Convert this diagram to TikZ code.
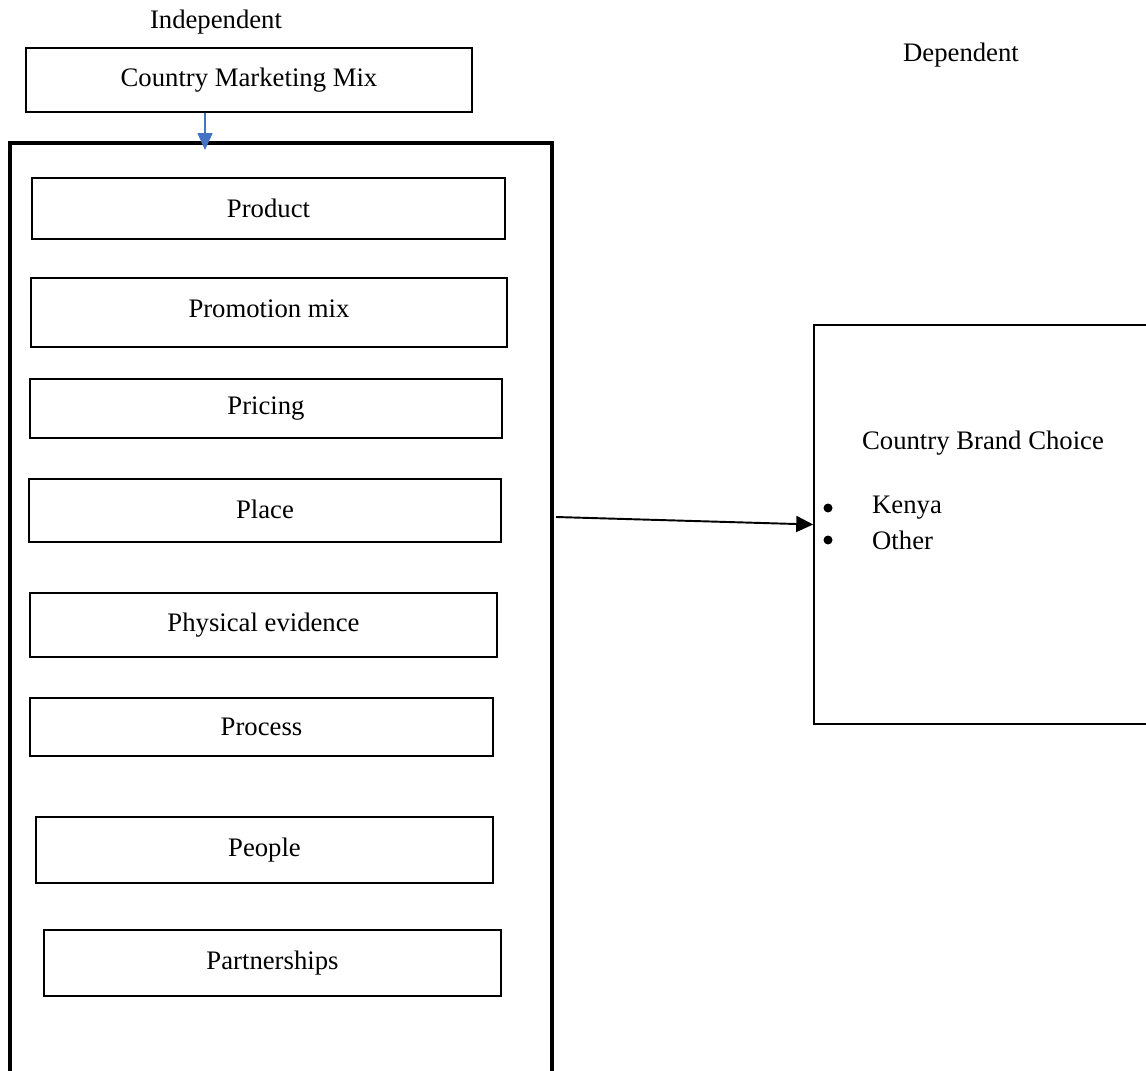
\documentclass[tikz,border=0pt]{standalone}
\usepackage{fontspec}
\setmainfont{Liberation Serif}
\usetikzlibrary{arrows.meta}
\definecolor{mixblue}{RGB}{68,114,196}
\begin{document}
\begin{tikzpicture}[x=0.02cm,y=-0.02cm,
    font=\fontsize{15.2}{18}\selectfont,
    box/.style={draw,line width=0.95pt,inner sep=0pt},
    frame/.style={draw,line width=2.4pt,inner sep=0pt},
    dot/.style={circle,fill,inner sep=0pt,minimum size=0.18cm}]
  \useasboundingbox (0,0) rectangle (1146,1071);
  \clip (0,0) rectangle (1146,1071);
  \node (indep) at (216,22) {Independent};
  \node (dep) at (961,55) {Dependent};
  \node[box,minimum width=8.92cm,minimum height=1.28cm] (mix) at (249,80) {Country Marketing Mix};
  \node[frame,minimum width=10.84cm,minimum height=19.14cm] (mixframe) at (281,621.5) {};
  \node[box,minimum width=9.46cm,minimum height=1.22cm] (product) at (268.5,208.5) {Product};
  \node[box,minimum width=9.52cm,minimum height=1.38cm] (promotion) at (269,312.5) {\raisebox{4pt}{Promotion mix}};
  \node[box,minimum width=9.44cm,minimum height=1.18cm] (pricing) at (266,408.5) {Pricing};
  \node[box,minimum width=9.44cm,minimum height=1.26cm] (place) at (265,510.5) {\raisebox{2pt}{Place}};
  \node[box,minimum width=9.34cm,minimum height=1.28cm] (physical) at (263.5,625) {\raisebox{2pt}{Physical evidence}};
  \node[box,minimum width=9.26cm,minimum height=1.16cm] (process) at (261.5,727) {Process};
  \node[box,minimum width=9.14cm,minimum height=1.32cm] (people) at (264.5,850) {\raisebox{2pt}{People}};
  \node[box,minimum width=9.14cm,minimum height=1.32cm] (partners) at (272.5,963) {\raisebox{3pt}{Partnerships}};
  \node[box,minimum width=6.92cm,minimum height=7.98cm] (choice) at (987,524.5) {};
  \node (choicetitle) at (983,443) {Country Brand Choice};
  \node[dot] (dot1) at (828,508) {};
  \node[dot] (dot2) at (828,540) {};
  \node[anchor=west] (kenya) at (866,508) {Kenya};
  \node[anchor=west] (other) at (866,540) {Other};
  \coordinate (mixin) at (205,150);
  \coordinate (mixout) at (556,517);
  \draw[mixblue,line width=0.8pt,-{Triangle[length=0.34cm,width=0.3cm]}] (mix.south -| mixin) -- (mixin);
  \draw[line width=1.1pt,-{Triangle[length=0.34cm,width=0.32cm]}] (mixout) -- (choice.west);
\end{tikzpicture}
\end{document}
